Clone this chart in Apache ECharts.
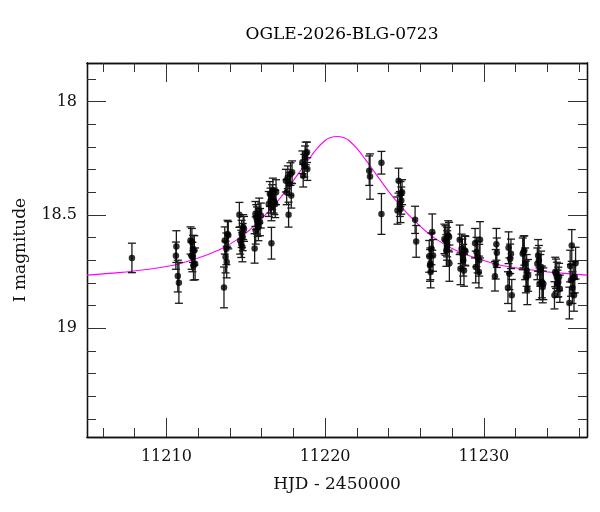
<!DOCTYPE html>
<html>
<head>
<meta charset="utf-8">
<script src="https://cdn.jsdelivr.net/npm/echarts@6/dist/echarts.min.js"></script>
<style>
  html, body { margin: 0; padding: 0; background: #fff; }
  #chart { width: 600px; height: 512px; }
</style>
</head>
<body>
<div id="chart"></div>
<script>
// photometry
const hjd = [
  11207.83,
  11210.63, 11210.60, 11210.72, 11210.79,
  11211.52, 11211.61, 11211.68, 11211.76, 11211.64, 11211.81, 11211.71, 11211.59,
  11213.63, 11213.68, 11213.73, 11213.80, 11213.85, 11213.90, 11213.78,
  11214.60, 11214.65, 11214.72, 11214.79, 11214.84, 11214.89, 11214.74, 11214.81,
  11215.56, 11215.61, 11215.66, 11215.71, 11215.75, 11215.80, 11215.85, 11215.90, 11215.95, 11215.63,
  11216.45, 11216.52, 11216.57, 11216.62, 11216.67, 11216.62, 11216.71, 11216.76, 11216.81, 11216.86, 11216.91,
  11217.53, 11217.58, 11217.65, 11217.70, 11217.77, 11217.82, 11217.87, 11217.92,
  11218.57, 11218.62, 11218.74, 11218.78, 11218.86, 11218.88, 11218.69,
  11222.78, 11222.83,
  11223.55, 11223.55,
  11224.56, 11224.63, 11224.71, 11224.75, 11224.80, 11224.75, 11224.85,
  11225.67, 11225.74,
  11226.56, 11226.61, 11226.65, 11226.70, 11226.75, 11226.80, 11226.63,
  11227.52, 11227.59, 11227.64, 11227.69, 11227.76, 11227.81, 11227.83, 11227.69,
  11228.48, 11228.53, 11228.60, 11228.65, 11228.70, 11228.75, 11228.80, 11228.84,
  11229.45, 11229.49, 11229.54, 11229.61, 11229.69, 11229.76, 11229.71,
  11230.70, 11230.75, 11230.79, 11230.82,
  11231.52, 11231.56, 11231.61, 11231.66, 11231.71, 11231.76,
  11232.45, 11232.50, 11232.55, 11232.60, 11232.65, 11232.70, 11232.74, 11232.79,
  11233.37, 11233.42, 11233.47, 11233.51, 11233.56, 11233.61, 11233.66, 11233.71, 11233.75,
  11234.45, 11234.50, 11234.55, 11234.60, 11234.64, 11234.69, 11234.74, 11234.79,
  11235.39, 11235.44, 11235.49, 11235.54, 11235.58, 11235.63, 11235.68, 11235.73, 11235.78
];
const imag = [
  18.690,
  18.640, 18.680, 18.770, 18.800,
  18.613, 18.620, 18.650, 18.657, 18.686, 18.716, 18.723, 18.680,
  18.820, 18.613, 18.686, 18.708, 18.584, 18.590, 18.650,
  18.500, 18.613, 18.628, 18.642, 18.554, 18.562, 18.584, 18.598,
  18.648, 18.496, 18.510, 18.525, 18.540, 18.554, 18.481, 18.532, 18.503, 18.569,
  18.452, 18.408, 18.437, 18.466, 18.422, 18.625, 18.393, 18.437, 18.444, 18.452, 18.400,
  18.349, 18.400, 18.334, 18.499, 18.364, 18.320, 18.415, 18.312,
  18.268, 18.327, 18.246, 18.229, 18.224, 18.298, 18.283,
  18.305, 18.331,
  18.270, 18.496,
  18.481, 18.349, 18.452, 18.408, 18.437, 18.474, 18.400,
  18.522, 18.617,
  18.683, 18.723, 18.752, 18.650, 18.576, 18.679, 18.716,
  18.606, 18.613, 18.657, 18.635, 18.591, 18.598, 18.713, 18.620,
  18.610, 18.738, 18.650, 18.672, 18.700, 18.745, 18.657, 18.660,
  18.625, 18.730, 18.664, 18.686, 18.752, 18.610, 18.700,
  18.771, 18.718, 18.630, 18.667,
  18.821, 18.645, 18.760, 18.694, 18.672, 18.855,
  18.672, 18.664, 18.657, 18.716, 18.774, 18.745, 18.826, 18.767,
  18.716, 18.679, 18.700, 18.804, 18.745, 18.730, 18.796, 18.818, 18.804,
  18.855, 18.752, 18.760, 18.774, 18.804, 18.796, 18.774, 18.826,
  18.889, 18.726, 18.789, 18.635, 18.821, 18.777, 18.855, 18.774, 18.713
];
const ierr = [
  0.065,
  0.070, 0.060, 0.070, 0.090,
  0.060, 0.060, 0.060, 0.065, 0.065, 0.070, 0.065, 0.060,
  0.090, 0.060, 0.070, 0.070, 0.060, 0.060, 0.070,
  0.055, 0.060, 0.060, 0.065, 0.055, 0.055, 0.060, 0.060,
  0.065, 0.055, 0.055, 0.060, 0.055, 0.060, 0.055, 0.060, 0.055, 0.060,
  0.055, 0.055, 0.055, 0.060, 0.055, 0.070, 0.055, 0.055, 0.055, 0.060, 0.055,
  0.050, 0.055, 0.050, 0.055, 0.050, 0.050, 0.055, 0.050,
  0.050, 0.050, 0.050, 0.050, 0.045, 0.050, 0.050,
  0.065, 0.100,
  0.050, 0.090,
  0.060, 0.055, 0.055, 0.055, 0.060, 0.060, 0.055,
  0.060, 0.070,
  0.070, 0.070, 0.070, 0.070, 0.080, 0.070, 0.070,
  0.065, 0.065, 0.070, 0.065, 0.065, 0.065, 0.080, 0.065,
  0.065, 0.070, 0.065, 0.065, 0.070, 0.070, 0.065, 0.065,
  0.065, 0.070, 0.065, 0.070, 0.070, 0.080, 0.070,
  0.065, 0.065, 0.070, 0.065,
  0.070, 0.070, 0.070, 0.065, 0.065, 0.070,
  0.070, 0.070, 0.065, 0.070, 0.070, 0.070, 0.070, 0.070,
  0.070, 0.070, 0.065, 0.070, 0.070, 0.070, 0.070, 0.070, 0.070,
  0.060, 0.065, 0.065, 0.065, 0.060, 0.065, 0.060, 0.060,
  0.070, 0.070, 0.070, 0.070, 0.070, 0.070, 0.070, 0.070, 0.070
];

// model curve
const modelHjd = [
  11205, 11207, 11209, 11210, 11211, 11212, 11212.5, 11213, 11213.5, 11214,
  11214.5, 11215, 11215.5, 11216, 11216.5, 11217, 11217.5, 11218, 11218.5, 11219,
  11219.5, 11220, 11220.3, 11220.75, 11221.2, 11221.5, 11222, 11222.5, 11223,
  11223.5, 11224, 11224.5, 11225, 11225.5, 11226, 11226.5, 11227, 11227.5,
  11228, 11228.5, 11229, 11229.5, 11230.5, 11231.5, 11232.5, 11234.5, 11236.5
];
const modelMag = [
  18.766, 18.755, 18.739, 18.728, 18.712, 18.690, 18.678, 18.664, 18.648, 18.629,
  18.607, 18.581, 18.551, 18.517, 18.480, 18.440, 18.396, 18.349, 18.300, 18.252,
  18.207, 18.172, 18.160, 18.154, 18.160, 18.172, 18.207, 18.252, 18.300,
  18.349, 18.396, 18.440, 18.480, 18.517, 18.551, 18.581, 18.607, 18.629,
  18.648, 18.664, 18.678, 18.690, 18.712, 18.728, 18.739, 18.755, 18.766
];

const xMajorTicks = [11210, 11220, 11230];
const xMinorTicks = [11206, 11208, 11210, 11212, 11214, 11216, 11218, 11220, 11222,
  11224, 11226, 11228, 11230, 11232, 11234, 11236];
const yMajorTicks = [18, 18.5, 19];
const yMinorTicks = [17.9, 18, 18.1, 18.2, 18.3, 18.4, 18.5, 18.6, 18.7, 18.8,
  18.9, 19, 19.1, 19.2, 19.3, 19.4];

const X_MIN = 11205, X_MAX = 11236.5;
const Y_MIN = 17.83, Y_MAX = 19.48;
const FONT = 'DejaVu Serif';
const INK = '#111';

function xAxisDef(pos, ticks, len, labels) {
  return {
    type: 'value', position: pos, min: X_MIN, max: X_MAX,
    splitLine: { show: false },
    axisLine: { show: true, onZero: false, lineStyle: { color: INK, width: 1.3 } },
    axisTick: { show: true, inside: true, length: len, customValues: ticks,
      lineStyle: { color: '#333', width: 1 } },
    axisLabel: labels
      ? { show: true, customValues: xMajorTicks, margin: 12, color: INK,
          fontFamily: FONT, fontSize: 16, formatter: v => String(v) }
      : { show: false }
  };
}

function yAxisDef(pos, ticks, len, labels) {
  return {
    type: 'value', position: pos, inverse: true, min: Y_MIN, max: Y_MAX,
    splitLine: { show: false },
    axisLine: { show: true, onZero: false, lineStyle: { color: INK, width: 1.3 } },
    axisTick: { show: true, inside: true, length: len, customValues: ticks,
      lineStyle: { color: '#333', width: 1 } },
    axisLabel: labels
      ? { show: true, customValues: yMajorTicks, margin: 10, color: INK,
          fontFamily: FONT, fontSize: 16, formatter: v => String(v) }
      : { show: false }
  };
}

const points = hjd.map((t, i) => [t, imag[i], ierr[i]]);
const model = modelHjd.map((t, i) => [t, modelMag[i]]);

const xAxes = [
  xAxisDef('bottom', xMajorTicks, 19, true),
  xAxisDef('bottom', xMinorTicks, 9, false),
  xAxisDef('top', xMajorTicks, 19, false),
  xAxisDef('top', xMinorTicks, 9, false)
];
xAxes[0].name = 'HJD - 2450000';
xAxes[0].nameLocation = 'middle';
xAxes[0].nameGap = 39;
xAxes[0].nameTextStyle = { fontFamily: FONT, fontSize: 17, color: INK };

const yAxes = [
  yAxisDef('left', yMajorTicks, 19, true),
  yAxisDef('left', yMinorTicks, 9, false),
  yAxisDef('right', yMajorTicks, 19, false),
  yAxisDef('right', yMinorTicks, 9, false)
];
yAxes[0].name = 'I magnitude';
yAxes[0].nameLocation = 'middle';
yAxes[0].nameGap = 58;
yAxes[0].nameRotate = 90;
yAxes[0].nameTextStyle = { fontFamily: FONT, fontSize: 17, color: INK };

const chart = echarts.init(document.getElementById('chart'), null, { renderer: 'canvas' });
chart.setOption({
  animation: false,
  backgroundColor: '#fff',
  title: {
    text: 'OGLE-2026-BLG-0723',
    left: 337, top: 21, textAlign: 'center',
    textStyle: { fontFamily: FONT, fontSize: 17, fontWeight: 'normal', color: '#000' }
  },
  grid: { left: 87, right: 13, top: 63, bottom: 75 },
  xAxis: xAxes,
  yAxis: yAxes,
  series: [
    {
      type: 'line', data: model, smooth: 0.3,
      showSymbol: false, silent: true,
      lineStyle: { color: '#ff00ff', width: 1.1 }, z: 1
    },
    {
      type: 'custom', data: points, silent: true, z: 2,
      encode: { x: 0, y: 1 },
      renderItem: function (params, api) {
        const t = api.value(0), m = api.value(1), e = api.value(2);
        const a = api.coord([t, m - e]);
        const b = api.coord([t, m + e]);
        const st = { stroke: '#1a1a1a', lineWidth: 1.3 };
        const cap = 4;
        return {
          type: 'group',
          children: [
            { type: 'line', shape: { x1: a[0], y1: a[1], x2: b[0], y2: b[1] }, style: st },
            { type: 'line', shape: { x1: a[0] - cap, y1: a[1], x2: a[0] + cap, y2: a[1] }, style: st },
            { type: 'line', shape: { x1: b[0] - cap, y1: b[1], x2: b[0] + cap, y2: b[1] }, style: st }
          ]
        };
      }
    },
    {
      type: 'scatter', data: points, symbol: 'circle', symbolSize: 6.5, silent: true, z: 3,
      itemStyle: { color: '#000' }
    }
  ]
});
</script>
</body>
</html>
